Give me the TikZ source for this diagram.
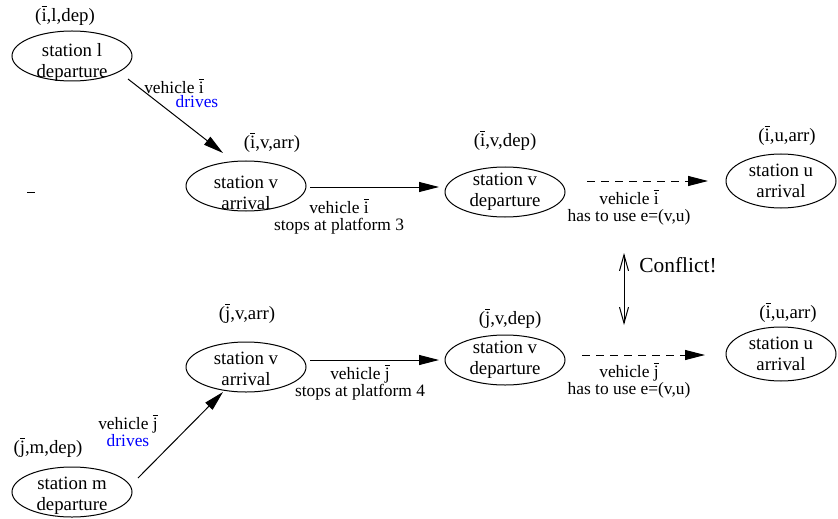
\documentclass[tikz,border=0pt]{standalone}
\usepackage{amsmath}
\usepackage{fontspec}
\setmainfont{Liberation Serif}
\usetikzlibrary{arrows.meta, shapes.geometric}
\newcommand{\ib}{\ensuremath{\overline{\text{i}}}}
\newcommand{\jb}{\ensuremath{\overline{\text{j}}}}

\begin{document}
\begin{tikzpicture}[x=0.5pt, y=-0.5pt,
  station/.style={draw, ellipse, line width=0.5pt, inner sep=0pt,
    minimum width=60pt, minimum height=25pt},
  ustation/.style={station, minimum width=55pt, minimum height=27pt},
  stxt/.style={font=\fontsize{9.4}{10.5}\selectfont, align=center, inner sep=0pt},
  tag/.style={font=\fontsize{9.4}{11}\selectfont, inner sep=0pt},
  elabel/.style={font=\fontsize{8.7}{8.5}\selectfont, align=center, inner sep=0pt},
  move/.style={-{Triangle[length=10pt,width=5pt]}, line width=0.5pt},
  plan/.style={move, dash pattern=on 4pt off 3pt},
  clash/.style={{Straight Barb[length=8pt,width=4.5pt]}-{Straight Barb[length=8pt,width=4.5pt]},
    line width=0.5pt}]
\useasboundingbox (0,0) rectangle (838,518);

% ---- vehicle i ----
\node[station, label={[stxt, yshift=-3.2pt]center:station l\\departure}] (ldep) at (72,56) {};
\node[tag] (ldeptag) at (65,15) {(\ib,l,dep)};
\node[station, label={[stxt, yshift=-3.2pt]center:station v\\arrival}] (ivarr) at (246,186) {};
\node[tag] (ivarrtag) at (272,142) {(\ib,v,arr)};
\node[station, label={[stxt]center:station v\\departure}] (ivdep) at (505,192) {};
\node[tag] (ivdeptag) at (505,140) {(\ib,v,dep)};
\node[ustation, label={[stxt]center:station u\\arrival}] (iuarr) at (781,181) {};
\node[tag] (iuarrtag) at (787,135) {(\ib,u,arr)};

% ---- vehicle j ----
\node[station, label={[stxt, yshift=-1.7pt]center:station m\\departure}] (jmdep) at (72,492) {};
\node[tag] (jmdeptag) at (48,447) {(\jb,m,dep)};
\node[station, label={[stxt, yshift=-0.8pt]center:station v\\arrival}] (jvarr) at (246,367) {};
\node[tag] (jvarrtag) at (247,313) {(\jb,v,arr)};
\node[station, label={[stxt]center:station v\\departure}] (jvdep) at (505,360) {};
\node[tag] (jvdeptag) at (510,318) {(\jb,v,dep)};
\node[ustation, label={[stxt]center:station u\\arrival}] (juarr) at (781,354) {};
\node[tag] (juarrtag) at (788,312) {(\ib,u,arr)};

% ---- connections ----
\draw[move] ([shift={(56,23)}]ldep.center) -- ([shift={(-23,-33)}]ivarr.center);
\node[elabel] (idrive) at (174,86) {vehicle \ib};
\node[elabel, text=blue] (idrive2) at (197,102) {drives};
\draw[move] ([shift={(64,1)}]ivarr.center) -- ([shift={(-66,-5)}]ivdep.center);
\node[elabel] (istop) at (339,216) {vehicle \ib\\stops at platform 3};
\draw[plan] ([shift={(82,-11)}]ivdep.center) -- ([shift={(-73,0)}]iuarr.center);
\node[elabel] (iuse) at (629,207) {vehicle \ib\\has to use e=(v,u)};

\draw[move] ([shift={(66,-14)}]jmdep.center) -- ([shift={(-23,25)}]jvarr.center);
\node[elabel] (jdrive) at (128,430) {vehicle \jb\\\textcolor{blue}{drives}};
\draw[move] ([shift={(64,-7)}]jvarr.center) -- ([shift={(-66,0)}]jvdep.center);
\node[elabel] (jstop) at (360,382) {vehicle \jb\\stops at platform 4};
\draw[plan] ([shift={(77,-5)}]jvdep.center) -- ([shift={(-76,1)}]juarr.center);
\node[elabel] (juse) at (629,380) {vehicle \jb\\has to use e=(v,u)};

% ---- conflict ----
\coordinate (ctop) at (624,253);
\coordinate (cbot) at (624,325);
\draw[clash] (ctop) -- (cbot);
\node[font=\fontsize{10.7}{12}\selectfont, inner sep=0pt] (conflict) at (678,265) {Conflict!};

\draw[line width=0.5pt] (27,192) -- (35,192);
\end{tikzpicture}
\end{document}
